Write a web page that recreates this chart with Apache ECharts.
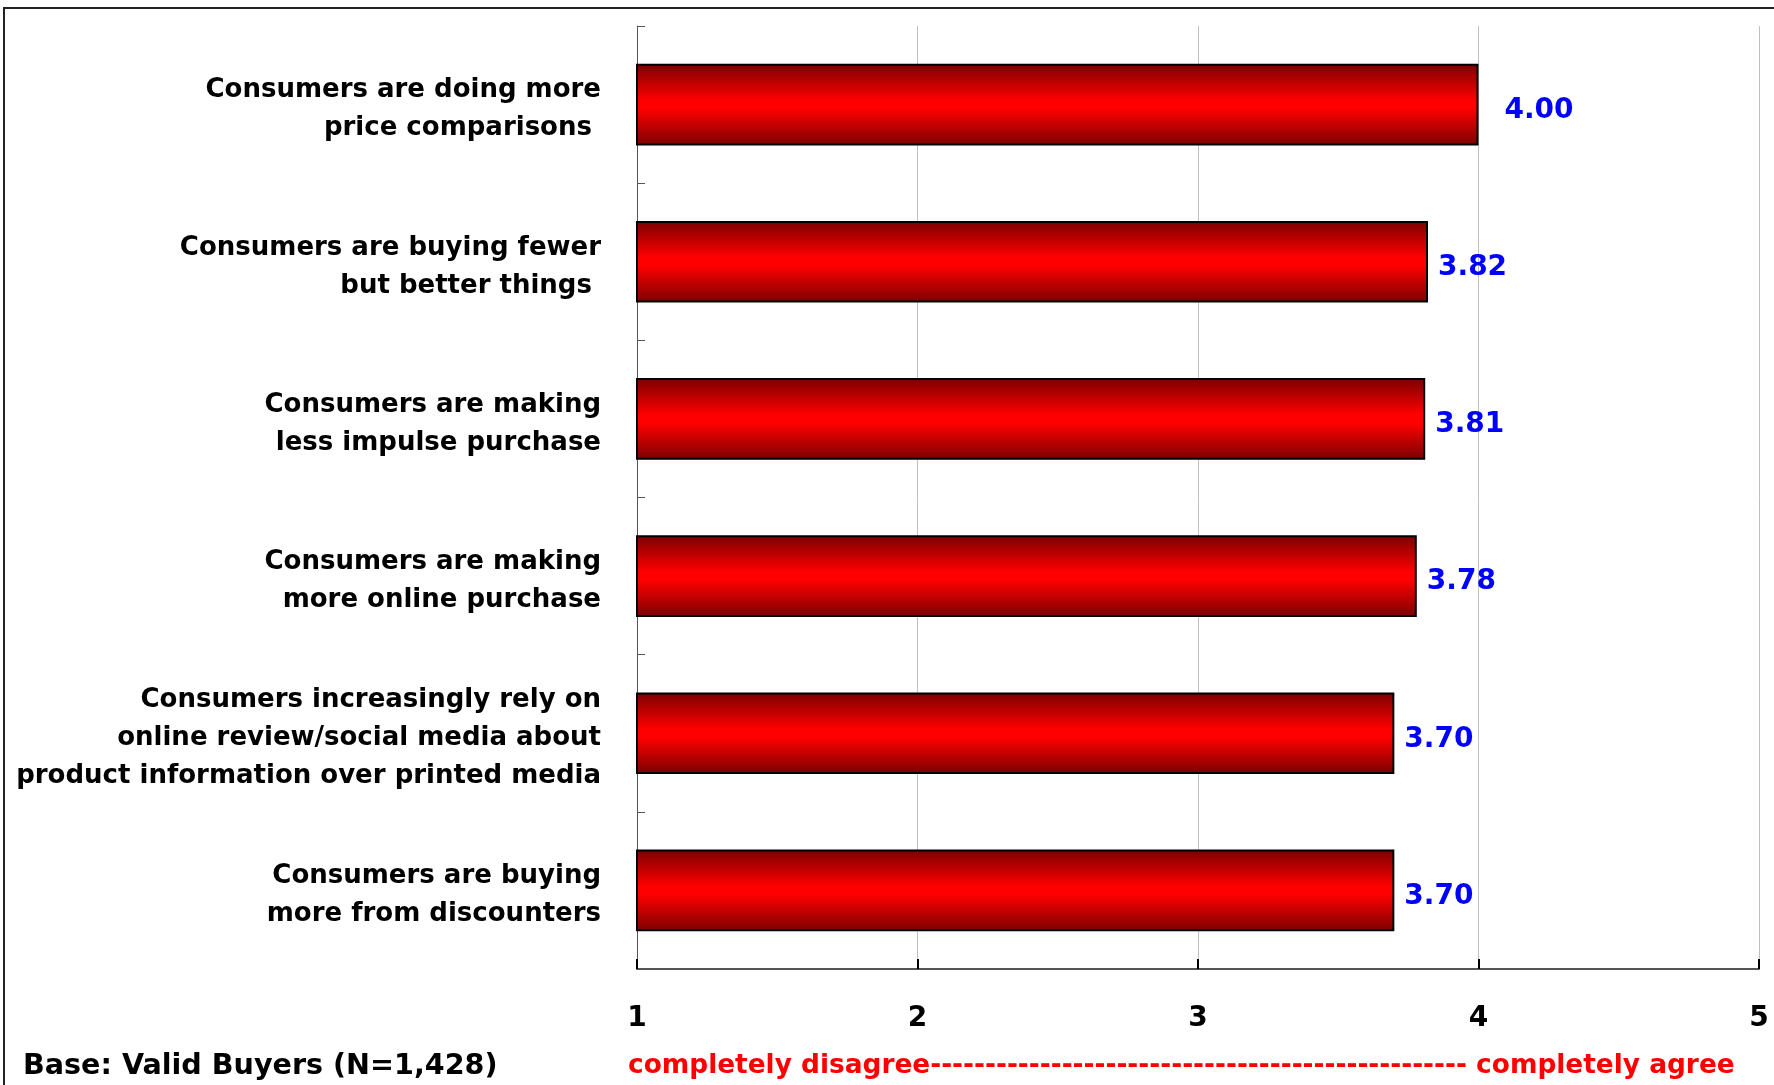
<!DOCTYPE html>
<html>
<head>
<meta charset="utf-8">
<script src="https://cdn.jsdelivr.net/npm/echarts@6/dist/echarts.min.js"></script>
<style>
html,body{margin:0;padding:0;background:#fff;}
#chart{width:1774px;height:1085px;}
</style>
</head>
<body>
<div id="chart"></div>
<script>
var categories = [
  'Consumers are doing more\nprice comparisons ',
  'Consumers are buying fewer\nbut better things ',
  'Consumers are making\nless impulse purchase',
  'Consumers are making\nmore online purchase',
  'Consumers increasingly rely on\nonline review/social media about\nproduct information over printed media',
  'Consumers are buying\nmore from discounters'
];
var values = [4.00, 3.82, 3.81, 3.78, 3.70, 3.70];
var xTicks = [1, 2, 3, 4, 5];
var baseNote = 'Base: Valid Buyers (N=1,428)';
var scaleNote = 'completely disagree' + '-------------------------------------------------' + ' completely agree';

var FONT = '"DejaVu Sans", Verdana, sans-serif';
var chart = echarts.init(document.getElementById('chart'));
var grad = new echarts.graphic.LinearGradient(0, 0, 0, 1, [
  {offset: 0, color: '#7a0000'},
  {offset: 0.45, color: '#ff0000'},
  {offset: 0.55, color: '#ff0000'},
  {offset: 1, color: '#7a0000'}
]);
chart.setOption({
  animation: false,
  backgroundColor: '#fff',
  grid: {left: 637, right: 15, top: 26, bottom: 116, containLabel: false},
  xAxis: {
    type: 'value', min: xTicks[0], max: xTicks[xTicks.length - 1], interval: 1,
    axisLine: {show: true, lineStyle: {color: '#555', width: 2}},
    axisTick: {show: true, inside: true, length: 10, lineStyle: {color: '#000', width: 2}},
    splitLine: {show: true, lineStyle: {color: '#c0c0c0', width: 1}},
    axisLabel: {color: '#000', fontFamily: FONT, fontWeight: 'bold', fontSize: 28, margin: 36}
  },
  yAxis: {
    type: 'category', inverse: true, data: categories,
    axisLine: {show: true, lineStyle: {color: '#555', width: 1}},
    axisTick: {show: true, inside: true, length: 8, lineStyle: {color: '#555'}},
    axisLabel: {
      align: 'right', margin: 36,
      formatter: function (v) {
        return '{s| }\n' + v.split('\n').map(function (l) { return '{t|' + l + '}'; }).join('\n');
      },
      rich: {
        s: {fontSize: 1, lineHeight: 10, align: 'right'},
        t: {color: '#000', fontFamily: FONT, fontWeight: 'bold', fontSize: 26, lineHeight: 38, align: 'right'}
      }
    }
  },
  series: [{
    type: 'bar',
    barCategoryGap: '48%',
    data: values.map(function (v, i) {
      return i === 0 ? {value: v, label: {distance: 26}} : v;
    }),
    itemStyle: {color: grad, borderColor: '#000', borderWidth: 2},
    label: {
      show: true, position: 'right', distance: 10, offset: [0, 6],
      color: '#0000ff', fontFamily: FONT, fontWeight: 'bold', fontSize: 28,
      formatter: function (p) { return p.value.toFixed(2); }
    }
  }],
  graphic: [
    {type: 'rect', shape: {x: 4, y: 8, width: 1900, height: 1200}, style: {fill: null, stroke: '#222', lineWidth: 2}, silent: true},
    {type: 'text', left: 23, top: 1052, style: {text: baseNote, fill: '#000', font: 'bold 28.6px ' + FONT}},
    {type: 'text', left: 628, top: 1053, style: {text: scaleNote, fill: '#ff0000', font: 'bold 26.4px ' + FONT}}
  ]
});
</script>
</body>
</html>
